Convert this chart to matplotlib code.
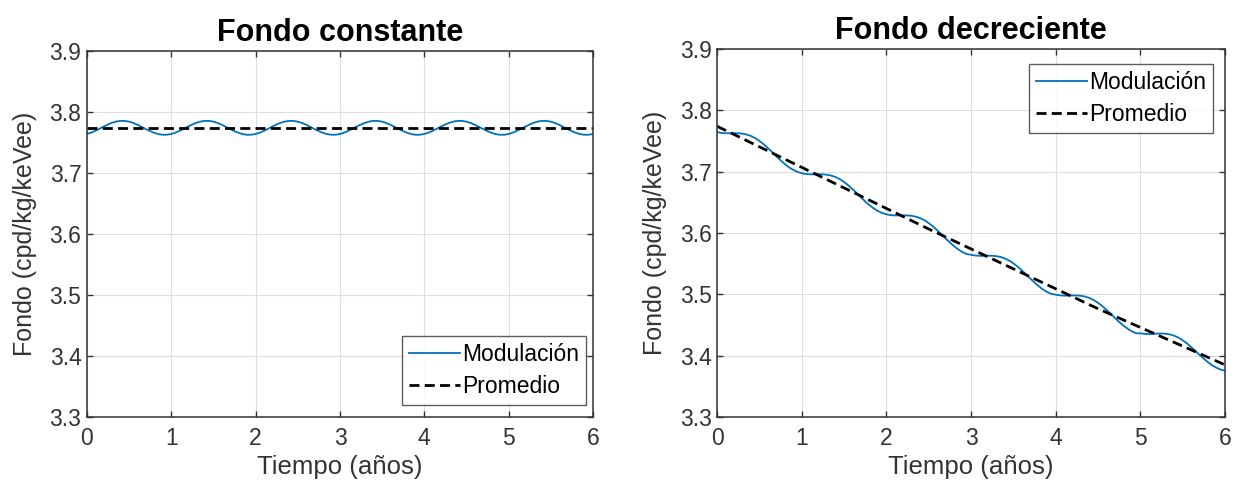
import matplotlib
matplotlib.use("Agg")
import matplotlib.pyplot as plt
import numpy as np

plt.rcParams['font.family'] = ['Liberation Sans', 'DejaVu Sans']

# Time axis (years), sampled every 0.05 years
t_years = np.round(np.arange(0, 121) * 0.05, 2)

# Constant background: annual modulation around the mean
mod_const = [
    3.7639, 3.7661, 3.7691, 3.7726, 3.7762, 3.7795, 3.7824, 3.7844, 3.7854, 3.7853,
    3.7841, 3.7819, 3.7789, 3.7754, 3.7718, 3.7685, 3.7656, 3.7636, 3.7626, 3.7627,
    3.7639, 3.7661, 3.7691, 3.7726, 3.7762, 3.7795, 3.7824, 3.7844, 3.7854, 3.7853,
    3.7841, 3.7819, 3.7789, 3.7754, 3.7718, 3.7685, 3.7656, 3.7636, 3.7626, 3.7627,
    3.7639, 3.7661, 3.7691, 3.7726, 3.7762, 3.7795, 3.7824, 3.7844, 3.7854, 3.7853,
    3.7841, 3.7819, 3.7789, 3.7754, 3.7718, 3.7685, 3.7656, 3.7636, 3.7626, 3.7627,
    3.7639, 3.7661, 3.7691, 3.7726, 3.7762, 3.7795, 3.7824, 3.7844, 3.7854, 3.7853,
    3.7841, 3.7819, 3.7789, 3.7754, 3.7718, 3.7685, 3.7656, 3.7636, 3.7626, 3.7627,
    3.7639, 3.7661, 3.7691, 3.7726, 3.7762, 3.7795, 3.7824, 3.7844, 3.7854, 3.7853,
    3.7841, 3.7819, 3.7789, 3.7754, 3.7718, 3.7685, 3.7656, 3.7636, 3.7626, 3.7627,
    3.7639, 3.7661, 3.7691, 3.7726, 3.7762, 3.7795, 3.7824, 3.7844, 3.7854, 3.7853,
    3.7841, 3.7819, 3.7789, 3.7754, 3.7718, 3.7685, 3.7656, 3.7636, 3.7626, 3.7627,
    3.7639,
]
avg_const_t = [0.0, 6.0]
avg_const = [3.774, 3.774]

# Decreasing background: modulated curve and its average
mod_decr = [
    3.7644, 3.7631, 3.7626, 3.7626, 3.7627, 3.7626, 3.7619, 3.7605, 3.7581, 3.7547,
    3.7501, 3.7447, 3.7385, 3.7319, 3.7250, 3.7185, 3.7124, 3.7071, 3.7028, 3.6996,
    3.6974, 3.6961, 3.6956, 3.6956, 3.6957, 3.6956, 3.6949, 3.6935, 3.6911, 3.6877,
    3.6831, 3.6777, 3.6715, 3.6649, 3.6580, 3.6515, 3.6454, 3.6401, 3.6358, 3.6326,
    3.6304, 3.6291, 3.6286, 3.6286, 3.6287, 3.6286, 3.6279, 3.6265, 3.6241, 3.6207,
    3.6161, 3.6107, 3.6045, 3.5979, 3.5910, 3.5845, 3.5784, 3.5731, 3.5688, 3.5656,
    3.5644, 3.5632, 3.5627, 3.5627, 3.5629, 3.5628, 3.5622, 3.5609, 3.5585, 3.5551,
    3.5506, 3.5452, 3.5391, 3.5325, 3.5257, 3.5192, 3.5132, 3.5079, 3.5037, 3.5005,
    3.4994, 3.4982, 3.4978, 3.4979, 3.4981, 3.4981, 3.4975, 3.4962, 3.4939, 3.4906,
    3.4861, 3.4808, 3.4747, 3.4681, 3.4614, 3.4550, 3.4490, 3.4438, 3.4396, 3.4365,
    3.4364, 3.4354, 3.4352, 3.4355, 3.4359, 3.4361, 3.4357, 3.4346, 3.4325, 3.4294,
    3.4251, 3.4200, 3.4141, 3.4077, 3.4012, 3.3950, 3.3892, 3.3842, 3.3802, 3.3773,
    3.3754,
]
avg_decr_t = [0.0, 0.5, 1.0, 1.5, 2.0, 2.5, 3.0, 3.5, 4.0, 4.5, 5.0, 5.5, 6.0]
avg_decr = [3.774, 3.7405, 3.707, 3.6735, 3.640, 3.6065, 3.574, 3.5415,
            3.509, 3.4765, 3.446, 3.4155, 3.385]

x_ticks = [0, 1, 2, 3, 4, 5, 6]
y_ticks = [3.3, 3.4, 3.5, 3.6, 3.7, 3.8, 3.9]
titles = ["Fondo constante", "Fondo decreciente"]
xlabel = "Tiempo (años)"
ylabel = "Fondo (cpd/kg/keVee)"
legend_labels = ["Modulación", "Promedio"]

BLUE = "#0072BD"
AXC = "#333333"

fig = plt.figure(figsize=(12.41, 4.98), dpi=100)
ax1 = fig.add_axes([0.0701, 0.1627, 0.4077, 0.735])
ax2 = fig.add_axes([0.5778, 0.1627, 0.4093, 0.739])

panels = [
    (ax1, mod_const, avg_const_t, avg_const, "lower right", (0.986, 0.033)),
    (ax2, mod_decr, avg_decr_t, avg_decr, "upper right", (0.976, 0.958)),
]

for (ax, mod, at, av, loc, anchor), title in zip(panels, titles):
    ax.plot(t_years, mod, color=BLUE, lw=1.3, label=legend_labels[0])
    ax.plot(at, av, color="black", lw=2.0, dashes=(3.6, 1.9),
            label=legend_labels[1])
    ax.set_xlim(0, 6)
    ax.set_ylim(3.3, 3.9)
    ax.set_xticks(x_ticks)
    ax.set_yticks(y_ticks)
    ax.set_xticklabels([str(v) for v in x_ticks])
    ax.set_yticklabels([f"{v:.1f}" for v in y_ticks])
    ax.grid(True, color="#dedede", lw=0.8)
    ax.set_axisbelow(True)
    ax.tick_params(direction="in", length=4, width=1.0, colors=AXC,
                   labelsize=16.5, top=True, right=True)
    ax.tick_params(axis="x", pad=7)
    ax.tick_params(axis="y", pad=4)
    for sp in ax.spines.values():
        sp.set_color(AXC)
        sp.set_linewidth(1.1)
    ax.set_xlabel(xlabel, fontsize=18.5, color=AXC, labelpad=4)
    ax.set_ylabel(ylabel, fontsize=18, color=AXC, labelpad=9)
    ax.set_title(title, fontsize=22, fontweight="bold", color="black", pad=7)
    leg = ax.legend(loc=loc, bbox_to_anchor=anchor, fontsize=16.5, frameon=True,
                    fancybox=False, handlelength=2.2, handletextpad=0.1,
                    borderpad=0.3, labelspacing=0.4, borderaxespad=0.0)
    leg.get_frame().set_edgecolor(AXC)
    leg.get_frame().set_linewidth(1.0)
    for txt in leg.get_texts():
        txt.set_color("black")

fig.savefig("out.png", dpi=100, facecolor="white")
